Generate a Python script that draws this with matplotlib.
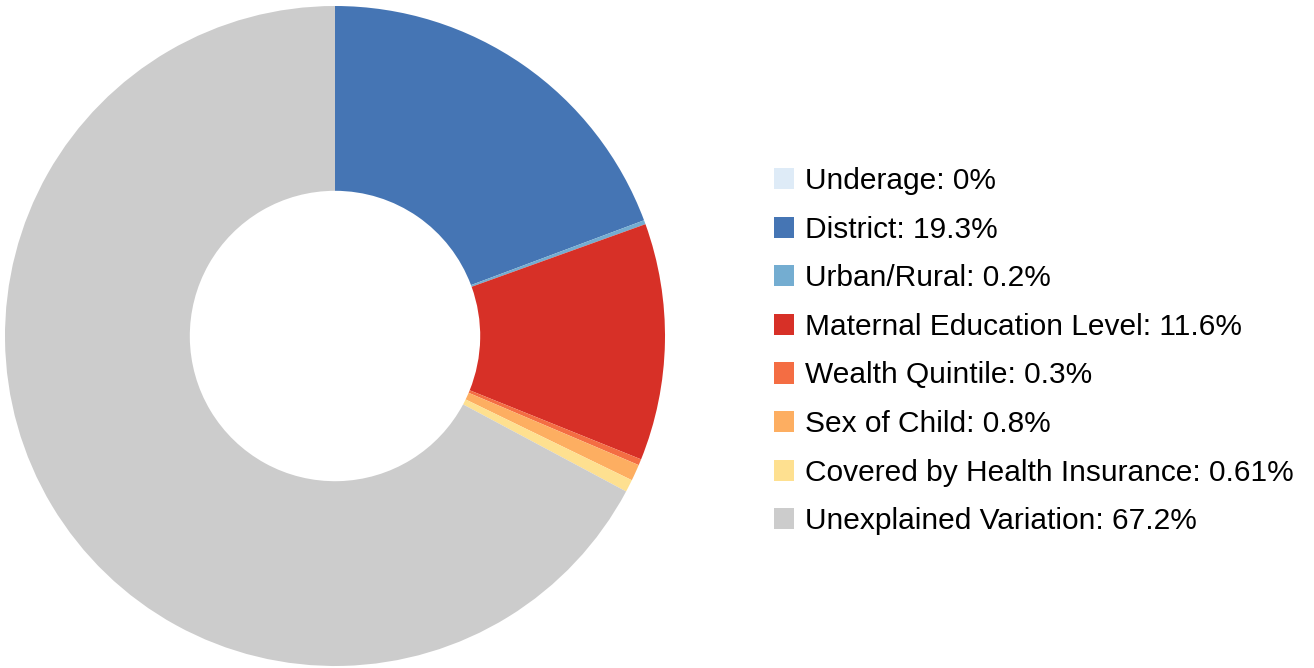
import matplotlib
matplotlib.use("Agg")
import matplotlib.pyplot as plt

plt.rcParams['font.family'] = ['Liberation Sans', 'DejaVu Sans']

categorias = ["Underage", "District", "Urban/Rural", "Maternal Education Level",
              "Wealth Quintile", "Sex of Child", "Covered by Health Insurance",
              "Unexplained Variation"]
valores = [0, 19.3, 0.2, 11.6, 0.3, 0.8, 0.61, 67.2]
rotulos = ["0%", "19.3%", "0.2%", "11.6%", "0.3%", "0.8%", "0.61%", "67.2%"]
cores = ["#DEEBF7", "#4575B4", "#74ADD1", "#D73027", "#F46D43", "#FDAE61",
         "#FEE090", "#CCCCCC"]

fig = plt.figure(figsize=(13.14, 6.68), dpi=100)
ax = fig.add_axes([5 / 1314, 2 / 668, 660 / 1314, 660 / 668])

fatias, _ = ax.pie(valores, colors=cores, startangle=90, counterclock=False,
                   radius=1, wedgeprops=dict(width=0.56, linewidth=0))
ax.set_xlim(-1, 1)
ax.set_ylim(-1, 1)
ax.set_aspect('equal')
ax.axis('off')

nomes = [f"{c}: {r}" for c, r in zip(categorias, rotulos)]
fig.legend(fatias, nomes, loc='upper left',
           bbox_to_anchor=(774 / 1314, 1 - 167 / 668),
           frameon=False, fontsize=21.5, borderpad=0, borderaxespad=0,
           handlelength=0.68, handleheight=0.72, handletextpad=0.36,
           labelspacing=0.69)

fig.savefig("out.png", dpi=100)
